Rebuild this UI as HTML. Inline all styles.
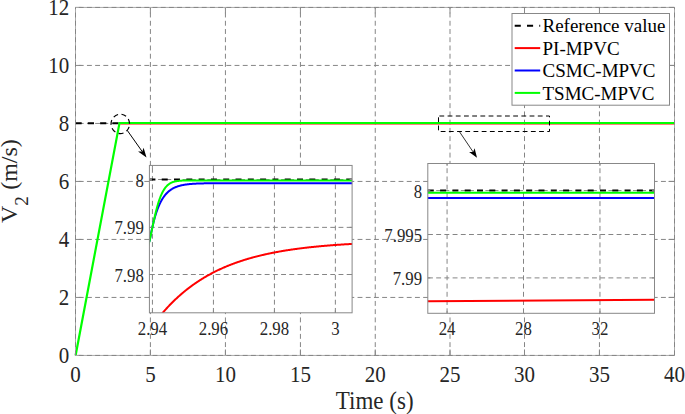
<!DOCTYPE html><html><head><meta charset="utf-8"><style>html,body{margin:0;padding:0;background:#fff;overflow:hidden;}svg{display:block;}text{font-family:"Liberation Serif",serif;}</style></head><body>
<svg width="685" height="414" viewBox="0 0 685 414">
<rect x="0" y="0" width="685" height="414" fill="#fff"/>
<g stroke="#858585" stroke-width="1" fill="none"><line x1="75.5" y1="297.43" x2="674.5" y2="297.43" stroke-dasharray="4.9 3.3" stroke-dashoffset="4.95"/><line x1="75.5" y1="239.43" x2="674.5" y2="239.43" stroke-dasharray="4.9 3.3" stroke-dashoffset="4.95"/><line x1="75.5" y1="181.43" x2="674.5" y2="181.43" stroke-dasharray="4.9 3.3" stroke-dashoffset="4.95"/><line x1="75.5" y1="123.43" x2="674.5" y2="123.43" stroke-dasharray="4.9 3.3" stroke-dashoffset="4.95"/><line x1="75.5" y1="65.43" x2="674.5" y2="65.43" stroke-dasharray="4.9 3.3" stroke-dashoffset="4.95"/><line x1="150.40" y1="7.43" x2="150.40" y2="355.43" stroke-dasharray="4.9 3.34" stroke-dashoffset="3.11"/><line x1="225.43" y1="7.43" x2="225.43" y2="355.43" stroke-dasharray="4.9 3.34" stroke-dashoffset="3.11"/><line x1="300.43" y1="7.43" x2="300.43" y2="355.43" stroke-dasharray="4.9 3.34" stroke-dashoffset="3.11"/><line x1="375.25" y1="7.43" x2="375.25" y2="355.43" stroke-dasharray="4.9 3.34" stroke-dashoffset="3.11"/><line x1="450.00" y1="7.43" x2="450.00" y2="355.43" stroke-dasharray="4.9 3.34" stroke-dashoffset="3.11"/><line x1="524.50" y1="7.43" x2="524.50" y2="355.43" stroke-dasharray="4.9 3.34" stroke-dashoffset="3.11"/><line x1="599.45" y1="7.43" x2="599.45" y2="355.43" stroke-dasharray="4.9 3.34" stroke-dashoffset="3.11"/></g>
<path d="M75.50 355.43v-6M75.50 7.43v6M150.40 355.43v-6M150.40 7.43v6M225.43 355.43v-6M225.43 7.43v6M300.43 355.43v-6M300.43 7.43v6M375.25 355.43v-6M375.25 7.43v6M450.00 355.43v-6M450.00 7.43v6M524.50 355.43v-6M524.50 7.43v6M599.45 355.43v-6M599.45 7.43v6M674.50 355.43v-6M674.50 7.43v6M75.5 355.43h6M674.5 355.43h-6M75.5 297.43h6M674.5 297.43h-6M75.5 239.43h6M674.5 239.43h-6M75.5 181.43h6M674.5 181.43h-6M75.5 123.43h6M674.5 123.43h-6M75.5 65.43h6M674.5 65.43h-6M75.5 7.43h6M674.5 7.43h-6" stroke="#888888" stroke-width="1" fill="none"/>
<line x1="75.5" y1="123.2" x2="121" y2="123.2" stroke="#000" stroke-width="2" stroke-dasharray="6.2 6.1"/>
<polyline points="120.2,123.5 674.5,123.5" stroke="#ff0000" stroke-width="2" fill="none"/>
<polyline points="75.6,355.43 119.5,123.0 674.5,123.0" stroke="#00ff00" stroke-width="2.2" fill="none"/>
<rect x="75.5" y="7.43" width="599.0" height="348.0" stroke="#ababab" stroke-width="1" fill="none"/>
<g stroke="#858585" stroke-width="1" fill="none"><line x1="75.5" y1="7.43" x2="674.5" y2="7.43" stroke-dasharray="4.9 3.3" stroke-dashoffset="4.95"/><line x1="75.5" y1="355.43" x2="674.5" y2="355.43" stroke-dasharray="4.9 3.3" stroke-dashoffset="4.95"/><line x1="75.50" y1="7.43" x2="75.50" y2="355.43" stroke-dasharray="4.9 3.34" stroke-dashoffset="3.11"/><line x1="674.50" y1="7.43" x2="674.50" y2="355.43" stroke-dasharray="4.9 3.34" stroke-dashoffset="3.11"/></g>
<g transform="translate(75.50,381.6) scale(1,1.06)"><text x="0" y="0" font-size="21" text-anchor="middle" fill="#262626">0</text></g>
<g transform="translate(150.40,381.6) scale(1,1.06)"><text x="0" y="0" font-size="21" text-anchor="middle" fill="#262626">5</text></g>
<g transform="translate(225.43,381.6) scale(1,1.06)"><text x="0" y="0" font-size="21" text-anchor="middle" fill="#262626">10</text></g>
<g transform="translate(300.43,381.6) scale(1,1.06)"><text x="0" y="0" font-size="21" text-anchor="middle" fill="#262626">15</text></g>
<g transform="translate(375.25,381.6) scale(1,1.06)"><text x="0" y="0" font-size="21" text-anchor="middle" fill="#262626">20</text></g>
<g transform="translate(450.00,381.6) scale(1,1.06)"><text x="0" y="0" font-size="21" text-anchor="middle" fill="#262626">25</text></g>
<g transform="translate(524.50,381.6) scale(1,1.06)"><text x="0" y="0" font-size="21" text-anchor="middle" fill="#262626">30</text></g>
<g transform="translate(599.45,381.6) scale(1,1.06)"><text x="0" y="0" font-size="21" text-anchor="middle" fill="#262626">35</text></g>
<g transform="translate(674.50,381.6) scale(1,1.06)"><text x="0" y="0" font-size="21" text-anchor="middle" fill="#262626">40</text></g>
<g transform="translate(69.3,362.88) scale(1,1.06)"><text x="0" y="0" font-size="21" text-anchor="end" fill="#262626">0</text></g>
<g transform="translate(69.3,304.88) scale(1,1.06)"><text x="0" y="0" font-size="21" text-anchor="end" fill="#262626">2</text></g>
<g transform="translate(69.3,246.88) scale(1,1.06)"><text x="0" y="0" font-size="21" text-anchor="end" fill="#262626">4</text></g>
<g transform="translate(69.3,188.88) scale(1,1.06)"><text x="0" y="0" font-size="21" text-anchor="end" fill="#262626">6</text></g>
<g transform="translate(69.3,130.88) scale(1,1.06)"><text x="0" y="0" font-size="21" text-anchor="end" fill="#262626">8</text></g>
<g transform="translate(69.3,72.88) scale(1,1.06)"><text x="0" y="0" font-size="21" text-anchor="end" fill="#262626">10</text></g>
<g transform="translate(69.3,14.88) scale(1,1.06)"><text x="0" y="0" font-size="21" text-anchor="end" fill="#262626">12</text></g>
<g transform="translate(374.7,409.1) scale(1,1.07)"><text x="0" y="0" font-size="23" text-anchor="middle" fill="#262626">Time (s)</text></g>
<g transform="translate(16.5,223) scale(1,1.04) rotate(-90)" fill="#262626"><text x="0" y="0" font-size="23">V</text><text x="16.6" y="11.2" font-size="18.4">2</text><text x="32.0" y="0" font-size="23">(m/s)</text></g>
<ellipse cx="120.3" cy="123.9" rx="9.25" ry="9.7" stroke="#000" stroke-width="1.2" fill="none" stroke-dasharray="5 3.52" stroke-dashoffset="5.52"/>
<line x1="127.2" y1="130.3" x2="142.26" y2="151.60" stroke="#000" stroke-width="1"/><path d="M146.5,157.6L138.07,151.56L142.26,151.60L143.62,147.64Z" fill="#000"/>
<rect x="438.5" y="116" width="111" height="15.5" stroke="#000" stroke-width="1" fill="none" stroke-dasharray="4.8 3.4" stroke-dashoffset="7.3"/>
<line x1="459.4" y1="131.6" x2="473.14" y2="151.98" stroke="#000" stroke-width="0.8"/><path d="M477.0,157.7L469.12,151.92L473.14,151.98L474.59,148.23Z" fill="#000"/>
<rect x="512" y="13.5" width="157.5" height="91.7" fill="#fff" stroke="#888888" stroke-width="1"/>
<line x1="514.7" y1="25.70" x2="540.2" y2="25.70" stroke="#000" stroke-width="2" stroke-dasharray="6.1 6.2"/>
<text x="542.5" y="32.40" font-size="19" fill="#000">Reference value</text>
<line x1="514.7" y1="48.10" x2="540.2" y2="48.10" stroke="#ff0000" stroke-width="2"/>
<text x="542.5" y="54.80" font-size="19" fill="#000">PI-MPVC</text>
<line x1="514.7" y1="70.50" x2="540.2" y2="70.50" stroke="#0000ff" stroke-width="2"/>
<text x="542.5" y="77.20" font-size="19" fill="#000">CSMC-MPVC</text>
<line x1="514.7" y1="92.90" x2="540.2" y2="92.90" stroke="#00ff00" stroke-width="2"/>
<text x="542.5" y="99.60" font-size="19" fill="#000">TSMC-MPVC</text>
<rect x="149.42" y="165.43" width="202.68" height="147.37" fill="#fff"/>
<g stroke="#858585" stroke-width="1" fill="none"><line x1="149.42" y1="179.50" x2="352.1" y2="179.50" stroke-dasharray="4.9 3.3" stroke-dashoffset="7.72"/><line x1="149.42" y1="227.36" x2="352.1" y2="227.36" stroke-dasharray="4.9 3.3" stroke-dashoffset="7.72"/><line x1="149.42" y1="274.50" x2="352.1" y2="274.50" stroke-dasharray="4.9 3.3" stroke-dashoffset="7.72"/><line x1="152.43" y1="165.43" x2="152.43" y2="312.8" stroke-dasharray="4.9 3.34" stroke-dashoffset="5.79"/><line x1="213.43" y1="165.43" x2="213.43" y2="312.8" stroke-dasharray="4.9 3.34" stroke-dashoffset="5.79"/><line x1="274.43" y1="165.43" x2="274.43" y2="312.8" stroke-dasharray="4.9 3.34" stroke-dashoffset="5.79"/><line x1="335.36" y1="165.43" x2="335.36" y2="312.8" stroke-dasharray="4.9 3.34" stroke-dashoffset="5.79"/></g>
<svg x="149.42" y="165.43" width="202.68" height="147.37" overflow="hidden"><g transform="translate(-149.42,-165.43)">
<line x1="149.42" y1="179.50" x2="352.1" y2="179.50" stroke="#000" stroke-width="2" stroke-dasharray="6 6.3"/>
<polyline points="158.0,318.48 158.5,317.85 159.0,317.23 159.5,316.62 160.0,316.01 160.5,315.41 161.0,314.81 161.5,314.21 162.0,313.62 162.5,313.03 163.0,312.45 163.5,311.88 164.0,311.30 164.5,310.74 165.0,310.18 165.5,309.62 166.0,309.06 166.5,308.51 167.0,307.97 167.5,307.43 168.0,306.89 168.5,306.36 169.0,305.83 169.5,305.31 170.0,304.79 170.5,304.28 171.0,303.77 171.5,303.26 172.0,302.76 172.5,302.26 173.0,301.76 173.5,301.27 174.0,300.78 174.5,300.30 175.0,299.82 175.5,299.35 176.0,298.88 176.5,298.41 177.0,297.94 177.5,297.48 178.0,297.03 178.5,296.58 179.0,296.13 179.5,295.68 180.0,295.24 180.5,294.80 181.0,294.37 181.5,293.93 182.0,293.51 182.5,293.08 183.0,292.66 183.5,292.24 184.0,291.83 184.5,291.42 185.0,291.01 185.5,290.60 186.0,290.20 186.5,289.80 187.0,289.41 187.5,289.02 188.0,288.63 188.5,288.24 189.0,287.86 189.5,287.48 190.0,287.11 190.5,286.73 191.0,286.36 191.5,285.99 192.0,285.63 192.5,285.27 193.0,284.91 193.5,284.55 194.0,284.20 194.5,283.85 195.0,283.50 195.5,283.16 196.0,282.82 196.5,282.48 197.0,282.14 197.5,281.81 198.0,281.48 198.5,281.15 199.0,280.82 199.5,280.50 200.0,280.18 200.5,279.86 201.0,279.55 201.5,279.23 202.0,278.92 202.5,278.62 203.0,278.31 203.5,278.01 204.0,277.71 204.5,277.41 205.0,277.11 205.5,276.82 206.0,276.53 206.5,276.24 207.0,275.95 207.5,275.67 208.0,275.39 208.5,275.11 209.0,274.83 209.5,274.56 210.0,274.28 210.5,274.01 211.0,273.74 211.5,273.48 212.0,273.21 212.5,272.95 213.0,272.69 213.5,272.43 214.0,272.18 214.5,271.92 215.0,271.67 215.5,271.42 216.0,271.17 216.5,270.93 217.0,270.68 217.5,270.44 218.0,270.20 218.5,269.96 219.0,269.73 219.5,269.49 220.0,269.26 220.5,269.03 221.0,268.80 221.5,268.58 222.0,268.35 222.5,268.13 223.0,267.91 223.5,267.69 224.0,267.47 224.5,267.25 225.0,267.04 225.5,266.83 226.0,266.61 226.5,266.41 227.0,266.20 227.5,265.99 228.0,265.79 228.5,265.58 229.0,265.38 229.5,265.18 230.0,264.99 230.5,264.79 231.0,264.60 231.5,264.40 232.0,264.21 232.5,264.02 233.0,263.83 233.5,263.65 234.0,263.46 234.5,263.28 235.0,263.09 235.5,262.91 236.0,262.73 236.5,262.55 237.0,262.38 237.5,262.20 238.0,262.03 238.5,261.86 239.0,261.68 239.5,261.52 240.0,261.35 240.5,261.18 241.0,261.01 241.5,260.85 242.0,260.69 242.5,260.52 243.0,260.36 243.5,260.20 244.0,260.05 244.5,259.89 245.0,259.73 245.5,259.58 246.0,259.43 246.5,259.28 247.0,259.13 247.5,258.98 248.0,258.83 248.5,258.68 249.0,258.54 249.5,258.39 250.0,258.25 250.5,258.10 251.0,257.96 251.5,257.82 252.0,257.68 252.5,257.55 253.0,257.41 253.5,257.27 254.0,257.14 254.5,257.01 255.0,256.87 255.5,256.74 256.0,256.61 256.5,256.48 257.0,256.36 257.5,256.23 258.0,256.10 258.5,255.98 259.0,255.85 259.5,255.73 260.0,255.61 260.5,255.49 261.0,255.37 261.5,255.25 262.0,255.13 262.5,255.01 263.0,254.90 263.5,254.78 264.0,254.67 264.5,254.55 265.0,254.44 265.5,254.33 266.0,254.22 266.5,254.11 267.0,254.00 267.5,253.89 268.0,253.78 268.5,253.68 269.0,253.57 269.5,253.47 270.0,253.36 270.5,253.26 271.0,253.16 271.5,253.05 272.0,252.95 272.5,252.85 273.0,252.75 273.5,252.66 274.0,252.56 274.5,252.46 275.0,252.37 275.5,252.27 276.0,252.18 276.5,252.08 277.0,251.99 277.5,251.90 278.0,251.81 278.5,251.72 279.0,251.63 279.5,251.54 280.0,251.45 280.5,251.36 281.0,251.27 281.5,251.19 282.0,251.10 282.5,251.02 283.0,250.93 283.5,250.85 284.0,250.76 284.5,250.68 285.0,250.60 285.5,250.52 286.0,250.44 286.5,250.36 287.0,250.28 287.5,250.20 288.0,250.12 288.5,250.05 289.0,249.97 289.5,249.89 290.0,249.82 290.5,249.74 291.0,249.67 291.5,249.60 292.0,249.52 292.5,249.45 293.0,249.38 293.5,249.31 294.0,249.24 294.5,249.17 295.0,249.10 295.5,249.03 296.0,248.96 296.5,248.89 297.0,248.82 297.5,248.76 298.0,248.69 298.5,248.63 299.0,248.56 299.5,248.50 300.0,248.43 300.5,248.37 301.0,248.30 301.5,248.24 302.0,248.18 302.5,248.12 303.0,248.06 303.5,248.00 304.0,247.94 304.5,247.88 305.0,247.82 305.5,247.76 306.0,247.70 306.5,247.64 307.0,247.59 307.5,247.53 308.0,247.47 308.5,247.42 309.0,247.36 309.5,247.31 310.0,247.25 310.5,247.20 311.0,247.14 311.5,247.09 312.0,247.04 312.5,246.98 313.0,246.93 313.5,246.88 314.0,246.83 314.5,246.78 315.0,246.73 315.5,246.68 316.0,246.63 316.5,246.58 317.0,246.53 317.5,246.48 318.0,246.43 318.5,246.39 319.0,246.34 319.5,246.29 320.0,246.24 320.5,246.20 321.0,246.15 321.5,246.11 322.0,246.06 322.5,246.02 323.0,245.97 323.5,245.93 324.0,245.89 324.5,245.84 325.0,245.80 325.5,245.76 326.0,245.71 326.5,245.67 327.0,245.63 327.5,245.59 328.0,245.55 328.5,245.51 329.0,245.47 329.5,245.43 330.0,245.39 330.5,245.35 331.0,245.31 331.5,245.27 332.0,245.23 332.5,245.20 333.0,245.16 333.5,245.12 334.0,245.08 334.5,245.05 335.0,245.01 335.5,244.97 336.0,244.94 336.5,244.90 337.0,244.87 337.5,244.83 338.0,244.80 338.5,244.76 339.0,244.73 339.5,244.69 340.0,244.66 340.5,244.63 341.0,244.59 341.5,244.56 342.0,244.53 342.5,244.49 343.0,244.46 343.5,244.43 344.0,244.40 344.5,244.37 345.0,244.34 345.5,244.31 346.0,244.28 346.5,244.24 347.0,244.21 347.5,244.18 348.0,244.15 348.5,244.13 349.0,244.10 349.5,244.07 350.0,244.04 350.5,244.01 351.0,243.98 351.5,243.95 352.0,243.93 352.5,243.90 353.0,243.87 353.5,243.84 354.0,243.82" stroke="#ff0000" stroke-width="2" fill="none"/>
<polyline points="148.0,241.05 148.5,241.05 149.0,241.05 149.5,241.05 150.0,238.86 150.5,236.18 151.0,233.60 151.5,231.14 152.0,228.79 152.5,226.55 153.0,224.42 153.5,222.38 154.0,220.44 154.5,218.59 155.0,216.84 155.5,215.16 156.0,213.57 156.5,212.06 157.0,210.62 157.5,209.25 158.0,207.95 158.5,206.71 159.0,205.53 159.5,204.41 160.0,203.35 160.5,202.34 161.0,201.37 161.5,200.46 162.0,199.59 162.5,198.77 163.0,197.98 163.5,197.24 164.0,196.53 164.5,195.86 165.0,195.22 165.5,194.61 166.0,194.03 166.5,193.48 167.0,192.96 167.5,192.47 168.0,192.00 168.5,191.55 169.0,191.13 169.5,190.73 170.0,190.34 170.5,189.98 171.0,189.63 171.5,189.31 172.0,189.00 172.5,188.70 173.0,188.42 173.5,188.15 174.0,187.90 174.5,187.66 175.0,187.43 175.5,187.22 176.0,187.01 176.5,186.82 177.0,186.63 177.5,186.45 178.0,186.29 178.5,186.13 179.0,185.98 179.5,185.84 180.0,185.70 180.5,185.57 181.0,185.45 181.5,185.33 182.0,185.22 182.5,185.12 183.0,185.02 183.5,184.92 184.0,184.83 184.5,184.75 185.0,184.67 185.5,184.59 186.0,184.52 186.5,184.45 187.0,184.39 187.5,184.32 188.0,184.26 188.5,184.21 189.0,184.16 189.5,184.11 190.0,184.06 190.5,184.01 191.0,183.97 191.5,183.93 192.0,183.89 192.5,183.85 193.0,183.82 193.5,183.78 194.0,183.75 194.5,183.72 195.0,183.69 195.5,183.67 196.0,183.64 196.5,183.62 197.0,183.60 197.5,183.57 198.0,183.55 198.5,183.53 199.0,183.51 199.5,183.50 200.0,183.48 200.5,183.46 201.0,183.45 201.5,183.43 202.0,183.42 202.5,183.41 203.0,183.40 203.5,183.38 204.0,183.37 204.5,183.36 205.0,183.35 205.5,183.34 206.0,183.33 206.5,183.33 207.0,183.32 207.5,183.31 208.0,183.30 208.5,183.30 209.0,183.29 209.5,183.28 210.0,183.28 210.5,183.27 211.0,183.27 211.5,183.26 212.0,183.26 212.5,183.25 213.0,183.25 213.5,183.24 214.0,183.24 214.5,183.24 215.0,183.23 215.5,183.23 216.0,183.23 216.5,183.22 217.0,183.22 217.5,183.22 218.0,183.22 218.5,183.21 219.0,183.21 219.5,183.21 220.0,183.21 220.5,183.21 221.0,183.20 221.5,183.20 222.0,183.20 222.5,183.20 223.0,183.20 223.5,183.20 224.0,183.19 224.5,183.19 225.0,183.19 225.5,183.19 226.0,183.19 226.5,183.19 227.0,183.19 227.5,183.19 228.0,183.19 228.5,183.19 229.0,183.18 229.5,183.18 230.0,183.18 230.5,183.18 231.0,183.18 231.5,183.18 232.0,183.18 232.5,183.18 233.0,183.18 233.5,183.18 234.0,183.18 234.5,183.18 235.0,183.18 235.5,183.18 236.0,183.18 236.5,183.18 237.0,183.18 237.5,183.18 238.0,183.18 238.5,183.18 239.0,183.18 239.5,183.17 240.0,183.17 240.5,183.17 241.0,183.17 241.5,183.17 242.0,183.17 242.5,183.17 243.0,183.17 243.5,183.17 244.0,183.17 244.5,183.17 245.0,183.17 245.5,183.17 246.0,183.17 246.5,183.17 247.0,183.17 247.5,183.17 248.0,183.17 248.5,183.17 249.0,183.17 249.5,183.17 250.0,183.17 250.5,183.17 251.0,183.17 251.5,183.17 252.0,183.17 252.5,183.17 253.0,183.17 253.5,183.17 254.0,183.17 254.5,183.17 255.0,183.17 255.5,183.17 256.0,183.17 256.5,183.17 257.0,183.17 257.5,183.17 258.0,183.17 258.5,183.17 259.0,183.17 259.5,183.17 260.0,183.17 260.5,183.17 261.0,183.17 261.5,183.17 262.0,183.17 262.5,183.17 263.0,183.17 263.5,183.17 264.0,183.17 264.5,183.17 265.0,183.17 265.5,183.17 266.0,183.17 266.5,183.17 267.0,183.17 267.5,183.17 268.0,183.17 268.5,183.17 269.0,183.17 269.5,183.17 270.0,183.17 270.5,183.17 271.0,183.17 271.5,183.17 272.0,183.17 272.5,183.17 273.0,183.17 273.5,183.17 274.0,183.17 274.5,183.17 275.0,183.17 275.5,183.17 276.0,183.17 276.5,183.17 277.0,183.17 277.5,183.17 278.0,183.17 278.5,183.17 279.0,183.17 279.5,183.17 280.0,183.17 280.5,183.17 281.0,183.17 281.5,183.17 282.0,183.17 282.5,183.17 283.0,183.17 283.5,183.17 284.0,183.17 284.5,183.17 285.0,183.17 285.5,183.17 286.0,183.17 286.5,183.17 287.0,183.17 287.5,183.17 288.0,183.17 288.5,183.17 289.0,183.17 289.5,183.17 290.0,183.17 290.5,183.17 291.0,183.17 291.5,183.17 292.0,183.17 292.5,183.17 293.0,183.17 293.5,183.17 294.0,183.17 294.5,183.17 295.0,183.17 295.5,183.17 296.0,183.17 296.5,183.17 297.0,183.17 297.5,183.17 298.0,183.17 298.5,183.17 299.0,183.17 299.5,183.17 300.0,183.17 300.5,183.17 301.0,183.17 301.5,183.17 302.0,183.17 302.5,183.17 303.0,183.17 303.5,183.17 304.0,183.17 304.5,183.17 305.0,183.17 305.5,183.17 306.0,183.17 306.5,183.17 307.0,183.17 307.5,183.17 308.0,183.17 308.5,183.17 309.0,183.17 309.5,183.17 310.0,183.17 310.5,183.17 311.0,183.17 311.5,183.17 312.0,183.17 312.5,183.17 313.0,183.17 313.5,183.17 314.0,183.17 314.5,183.17 315.0,183.17 315.5,183.17 316.0,183.17 316.5,183.17 317.0,183.17 317.5,183.17 318.0,183.17 318.5,183.17 319.0,183.17 319.5,183.17 320.0,183.17 320.5,183.17 321.0,183.17 321.5,183.17 322.0,183.17 322.5,183.17 323.0,183.17 323.5,183.17 324.0,183.17 324.5,183.17 325.0,183.17 325.5,183.17 326.0,183.17 326.5,183.17 327.0,183.17 327.5,183.17 328.0,183.17 328.5,183.17 329.0,183.17 329.5,183.17 330.0,183.17 330.5,183.17 331.0,183.17 331.5,183.17 332.0,183.17 332.5,183.17 333.0,183.17 333.5,183.17 334.0,183.17 334.5,183.17 335.0,183.17 335.5,183.17 336.0,183.17 336.5,183.17 337.0,183.17 337.5,183.17 338.0,183.17 338.5,183.17 339.0,183.17 339.5,183.17 340.0,183.17 340.5,183.17 341.0,183.17 341.5,183.17 342.0,183.17 342.5,183.17 343.0,183.17 343.5,183.17 344.0,183.17 344.5,183.17 345.0,183.17 345.5,183.17 346.0,183.17 346.5,183.17 347.0,183.17 347.5,183.17 348.0,183.17 348.5,183.17 349.0,183.17 349.5,183.17 350.0,183.17 350.5,183.17 351.0,183.17 351.5,183.17 352.0,183.17 352.5,183.17 353.0,183.17 353.5,183.17 354.0,183.17" stroke="#0000ff" stroke-width="2" fill="none"/>
<polyline points="148.0,246.15 148.5,244.70 149.0,242.91 149.5,240.91 150.0,238.75 150.5,236.48 151.0,234.13 151.5,231.75 152.0,229.35 152.5,226.95 153.0,224.57 153.5,222.23 154.0,219.93 154.5,217.68 155.0,215.51 155.5,213.39 156.0,211.36 156.5,209.40 157.0,207.53 157.5,205.73 158.0,204.02 158.5,202.40 159.0,200.85 159.5,199.39 160.0,198.01 160.5,196.71 161.0,195.49 161.5,194.34 162.0,193.26 162.5,192.25 163.0,191.31 163.5,190.43 164.0,189.61 164.5,188.85 165.0,188.14 165.5,187.49 166.0,186.88 166.5,186.32 167.0,185.80 167.5,185.32 168.0,184.88 168.5,184.48 169.0,184.10 169.5,183.76 170.0,183.45 170.5,183.16 171.0,182.90 171.5,182.66 172.0,182.44 172.5,182.24 173.0,182.06 173.5,181.90 174.0,181.75 174.5,181.61 175.0,181.49 175.5,181.37 176.0,181.27 176.5,181.18 177.0,181.10 177.5,181.02 178.0,180.96 178.5,180.90 179.0,180.84 179.5,180.79 180.0,180.75 180.5,180.71 181.0,180.67 181.5,180.64 182.0,180.61 182.5,180.59 183.0,180.56 183.5,180.54 184.0,180.53 184.5,180.51 185.0,180.50 185.5,180.48 186.0,180.47 186.5,180.46 187.0,180.45 187.5,180.44 188.0,180.44 188.5,180.43 189.0,180.42 189.5,180.42 190.0,180.42 190.5,180.41 191.0,180.41 191.5,180.40 192.0,180.40 192.5,180.40 193.0,180.40 193.5,180.40 194.0,180.39 194.5,180.39 195.0,180.39 195.5,180.39 196.0,180.39 196.5,180.39 197.0,180.39 197.5,180.39 198.0,180.39 198.5,180.39 199.0,180.39 199.5,180.39 200.0,180.39 200.5,180.38 201.0,180.38 201.5,180.38 202.0,180.38 202.5,180.38 203.0,180.38 203.5,180.38 204.0,180.38 204.5,180.38 205.0,180.38 205.5,180.38 206.0,180.38 206.5,180.38 207.0,180.38 207.5,180.38 208.0,180.38 208.5,180.38 209.0,180.38 209.5,180.38 210.0,180.38 210.5,180.38 211.0,180.38 211.5,180.38 212.0,180.38 212.5,180.38 213.0,180.38 213.5,180.38 214.0,180.38 214.5,180.38 215.0,180.38 215.5,180.38 216.0,180.38 216.5,180.38 217.0,180.38 217.5,180.38 218.0,180.38 218.5,180.38 219.0,180.38 219.5,180.38 220.0,180.38 220.5,180.38 221.0,180.38 221.5,180.38 222.0,180.38 222.5,180.38 223.0,180.38 223.5,180.38 224.0,180.38 224.5,180.38 225.0,180.38 225.5,180.38 226.0,180.38 226.5,180.38 227.0,180.38 227.5,180.38 228.0,180.38 228.5,180.38 229.0,180.38 229.5,180.38 230.0,180.38 230.5,180.38 231.0,180.38 231.5,180.38 232.0,180.38 232.5,180.38 233.0,180.38 233.5,180.38 234.0,180.38 234.5,180.38 235.0,180.38 235.5,180.38 236.0,180.38 236.5,180.38 237.0,180.38 237.5,180.38 238.0,180.38 238.5,180.38 239.0,180.38 239.5,180.38 240.0,180.38 240.5,180.38 241.0,180.38 241.5,180.38 242.0,180.38 242.5,180.38 243.0,180.38 243.5,180.38 244.0,180.38 244.5,180.38 245.0,180.38 245.5,180.38 246.0,180.38 246.5,180.38 247.0,180.38 247.5,180.38 248.0,180.38 248.5,180.38 249.0,180.38 249.5,180.38 250.0,180.38 250.5,180.38 251.0,180.38 251.5,180.38 252.0,180.38 252.5,180.38 253.0,180.38 253.5,180.38 254.0,180.38 254.5,180.38 255.0,180.38 255.5,180.38 256.0,180.38 256.5,180.38 257.0,180.38 257.5,180.38 258.0,180.38 258.5,180.38 259.0,180.38 259.5,180.38 260.0,180.38 260.5,180.38 261.0,180.38 261.5,180.38 262.0,180.38 262.5,180.38 263.0,180.38 263.5,180.38 264.0,180.38 264.5,180.38 265.0,180.38 265.5,180.38 266.0,180.38 266.5,180.38 267.0,180.38 267.5,180.38 268.0,180.38 268.5,180.38 269.0,180.38 269.5,180.38 270.0,180.38 270.5,180.38 271.0,180.38 271.5,180.38 272.0,180.38 272.5,180.38 273.0,180.38 273.5,180.38 274.0,180.38 274.5,180.38 275.0,180.38 275.5,180.38 276.0,180.38 276.5,180.38 277.0,180.38 277.5,180.38 278.0,180.38 278.5,180.38 279.0,180.38 279.5,180.38 280.0,180.38 280.5,180.38 281.0,180.38 281.5,180.38 282.0,180.38 282.5,180.38 283.0,180.38 283.5,180.38 284.0,180.38 284.5,180.38 285.0,180.38 285.5,180.38 286.0,180.38 286.5,180.38 287.0,180.38 287.5,180.38 288.0,180.38 288.5,180.38 289.0,180.38 289.5,180.38 290.0,180.38 290.5,180.38 291.0,180.38 291.5,180.38 292.0,180.38 292.5,180.38 293.0,180.38 293.5,180.38 294.0,180.38 294.5,180.38 295.0,180.38 295.5,180.38 296.0,180.38 296.5,180.38 297.0,180.38 297.5,180.38 298.0,180.38 298.5,180.38 299.0,180.38 299.5,180.38 300.0,180.38 300.5,180.38 301.0,180.38 301.5,180.38 302.0,180.38 302.5,180.38 303.0,180.38 303.5,180.38 304.0,180.38 304.5,180.38 305.0,180.38 305.5,180.38 306.0,180.38 306.5,180.38 307.0,180.38 307.5,180.38 308.0,180.38 308.5,180.38 309.0,180.38 309.5,180.38 310.0,180.38 310.5,180.38 311.0,180.38 311.5,180.38 312.0,180.38 312.5,180.38 313.0,180.38 313.5,180.38 314.0,180.38 314.5,180.38 315.0,180.38 315.5,180.38 316.0,180.38 316.5,180.38 317.0,180.38 317.5,180.38 318.0,180.38 318.5,180.38 319.0,180.38 319.5,180.38 320.0,180.38 320.5,180.38 321.0,180.38 321.5,180.38 322.0,180.38 322.5,180.38 323.0,180.38 323.5,180.38 324.0,180.38 324.5,180.38 325.0,180.38 325.5,180.38 326.0,180.38 326.5,180.38 327.0,180.38 327.5,180.38 328.0,180.38 328.5,180.38 329.0,180.38 329.5,180.38 330.0,180.38 330.5,180.38 331.0,180.38 331.5,180.38 332.0,180.38 332.5,180.38 333.0,180.38 333.5,180.38 334.0,180.38 334.5,180.38 335.0,180.38 335.5,180.38 336.0,180.38 336.5,180.38 337.0,180.38 337.5,180.38 338.0,180.38 338.5,180.38 339.0,180.38 339.5,180.38 340.0,180.38 340.5,180.38 341.0,180.38 341.5,180.38 342.0,180.38 342.5,180.38 343.0,180.38 343.5,180.38 344.0,180.38 344.5,180.38 345.0,180.38 345.5,180.38 346.0,180.38 346.5,180.38 347.0,180.38 347.5,180.38 348.0,180.38 348.5,180.38 349.0,180.38 349.5,180.38 350.0,180.38 350.5,180.38 351.0,180.38 351.5,180.38 352.0,180.38 352.5,180.38 353.0,180.38 353.5,180.38 354.0,180.38" stroke="#00ff00" stroke-width="2" fill="none"/>
</g></svg>
<rect x="149.42" y="165.43" width="202.68" height="147.37" fill="none" stroke="#888888" stroke-width="1"/>
<path d="M152.43 165.43v2.5M152.43 312.8v-2.5M213.43 165.43v2.5M213.43 312.8v-2.5M274.43 165.43v2.5M274.43 312.8v-2.5M335.36 165.43v2.5M335.36 312.8v-2.5M149.42 179.50h2.5M352.1 179.50h-2.5M149.42 227.36h2.5M352.1 227.36h-2.5M149.42 274.50h2.5M352.1 274.50h-2.5" stroke="#888888" stroke-width="1" fill="none"/>
<g transform="translate(152.43,334.7) scale(1,1.1)"><text x="0" y="0" font-size="16.8" text-anchor="middle" fill="#262626">2.94</text></g>
<g transform="translate(213.43,334.7) scale(1,1.1)"><text x="0" y="0" font-size="16.8" text-anchor="middle" fill="#262626">2.96</text></g>
<g transform="translate(274.43,334.7) scale(1,1.1)"><text x="0" y="0" font-size="16.8" text-anchor="middle" fill="#262626">2.98</text></g>
<g transform="translate(335.36,334.7) scale(1,1.1)"><text x="0" y="0" font-size="16.8" text-anchor="middle" fill="#262626">3</text></g>
<g transform="translate(143.8,186.60) scale(1,1.1)"><text x="0" y="0" font-size="16.8" text-anchor="end" fill="#262626">8</text></g>
<g transform="translate(143.8,234.46) scale(1,1.1)"><text x="0" y="0" font-size="16.8" text-anchor="end" fill="#262626">7.99</text></g>
<g transform="translate(143.8,281.60) scale(1,1.1)"><text x="0" y="0" font-size="16.8" text-anchor="end" fill="#262626">7.98</text></g>
<rect x="427.8" y="163.5" width="226.70" height="149.80" fill="#fff"/>
<g stroke="#858585" stroke-width="1" fill="none"><line x1="427.8" y1="190.60" x2="654.5" y2="190.60" stroke-dasharray="4.9 3.3" stroke-dashoffset="8.0"/><line x1="427.8" y1="234.50" x2="654.5" y2="234.50" stroke-dasharray="4.9 3.3" stroke-dashoffset="8.0"/><line x1="427.8" y1="277.90" x2="654.5" y2="277.90" stroke-dasharray="4.9 3.3" stroke-dashoffset="8.0"/><line x1="447.07" y1="163.5" x2="447.07" y2="313.3" stroke-dasharray="4.9 3.34" stroke-dashoffset="3.5"/><line x1="523.50" y1="163.5" x2="523.50" y2="313.3" stroke-dasharray="4.9 3.34" stroke-dashoffset="3.5"/><line x1="599.96" y1="163.5" x2="599.96" y2="313.3" stroke-dasharray="4.9 3.34" stroke-dashoffset="3.5"/></g>
<line x1="427.8" y1="190.60" x2="654.5" y2="190.60" stroke="#000" stroke-width="2" stroke-dasharray="6 6.3"/>
<line x1="427.8" y1="301.3" x2="654.5" y2="299.8" stroke="#ff0000" stroke-width="2"/>
<line x1="427.8" y1="198.0" x2="654.5" y2="198.0" stroke="#0000ff" stroke-width="2"/>
<line x1="427.8" y1="192.7" x2="654.5" y2="192.7" stroke="#00ff00" stroke-width="2"/>
<rect x="427.8" y="163.5" width="226.70" height="149.80" fill="none" stroke="#888888" stroke-width="1"/>
<path d="M447.07 163.5v2.5M447.07 313.3v-2.5M523.50 163.5v2.5M523.50 313.3v-2.5M599.96 163.5v2.5M599.96 313.3v-2.5M427.8 190.60h2.5M654.5 190.60h-2.5M427.8 234.50h2.5M654.5 234.50h-2.5M427.8 277.90h2.5M654.5 277.90h-2.5" stroke="#888888" stroke-width="1" fill="none"/>
<g transform="translate(447.07,335.1) scale(1,1.1)"><text x="0" y="0" font-size="16.8" text-anchor="middle" fill="#262626">24</text></g>
<g transform="translate(523.50,335.1) scale(1,1.1)"><text x="0" y="0" font-size="16.8" text-anchor="middle" fill="#262626">28</text></g>
<g transform="translate(599.96,335.1) scale(1,1.1)"><text x="0" y="0" font-size="16.8" text-anchor="middle" fill="#262626">32</text></g>
<g transform="translate(422.1,197.80) scale(1,1.1)"><text x="0" y="0" font-size="16.8" text-anchor="end" fill="#262626">8</text></g>
<g transform="translate(422.1,241.70) scale(1,1.1)"><text x="0" y="0" font-size="16.8" text-anchor="end" fill="#262626">7.995</text></g>
<g transform="translate(422.1,285.10) scale(1,1.1)"><text x="0" y="0" font-size="16.8" text-anchor="end" fill="#262626">7.99</text></g>
</svg></body></html>
